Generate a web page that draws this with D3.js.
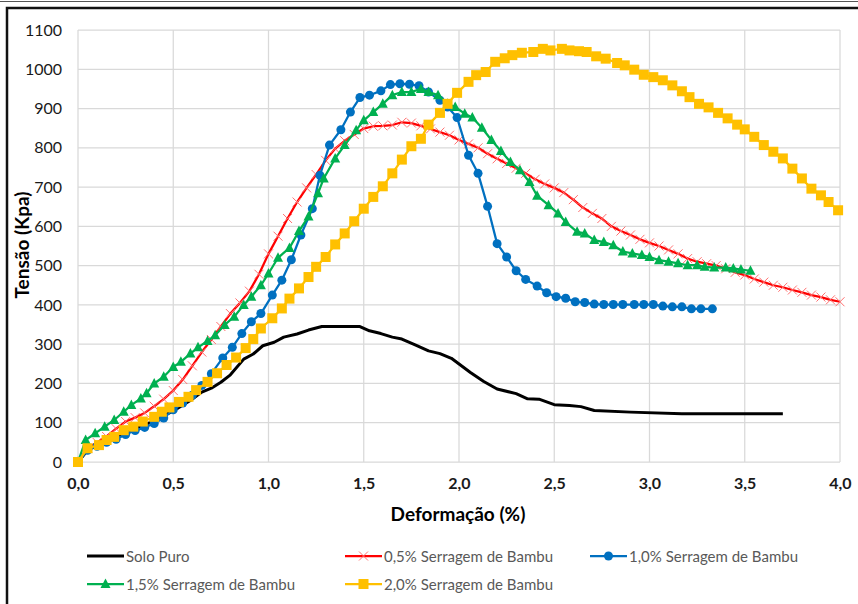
<!DOCTYPE html>
<html>
<head>
<meta charset="utf-8">
<script src="https://cdn.jsdelivr.net/npm/d3@7"></script>
<style>
  body { margin: 0; background: #fff; }
  svg { display: block; font-family: Lato, "Open Sans", sans-serif; }
</style>
</head>
<body>
<svg id="chart" width="858" height="604"></svg>
<script>
// x ticks / y ticks
var xTicks = [0, 0.5, 1, 1.5, 2, 2.5, 3, 3.5, 4];
var xTickLabels = ['0,0', '0,5', '1,0', '1,5', '2,0', '2,5', '3,0', '3,5', '4,0'];
var yTicks = [0, 100, 200, 300, 400, 500, 600, 700, 800, 900, 1000, 1100];

var seriesNames = ['Solo Puro', '0,5% Serragem de Bambu', '1,0% Serragem de Bambu',
                   '1,5% Serragem de Bambu', '2,0% Serragem de Bambu'];

// deformacao (%), tensao (kPa)
var soloPuro = [[0,0],[0.05,30],[0.1,42],[0.2,62],[0.3,85],[0.4,105],[0.5,130],[0.6,160],[0.65,178],
  [0.7,188],[0.75,203],[0.8,222],[0.87,262],[0.92,275],[0.97,296],[1.03,305],[1.08,318],[1.15,326],
  [1.21,336],[1.28,345],[1.48,345],[1.53,334],[1.59,327],[1.65,318],[1.7,313],[1.77,298],[1.84,283],
  [1.9,276],[1.96,264],[2.06,228],[2.13,205],[2.2,186],[2.3,174],[2.36,161],[2.42,160],[2.5,146],
  [2.58,144],[2.64,141],[2.71,131],[2.9,127],[3.17,123],[3.7,123]];

var serr05 = [[0,0],[0.05,35],[0.1,50],[0.15,65],[0.2,85],[0.25,103],[0.3,113],[0.35,125],[0.4,142],
  [0.45,160],[0.5,182],[0.55,210],[0.6,245],[0.65,280],[0.7,312],[0.75,345],[0.8,378],[0.85,405],
  [0.9,435],[0.95,478],[1.0,530],[1.05,575],[1.1,620],[1.15,662],[1.2,698],[1.25,732],[1.3,768],
  [1.35,798],[1.4,818],[1.45,834],[1.5,849],[1.55,855],[1.6,856],[1.65,858],[1.7,865],[1.75,863],
  [1.8,856],[1.85,848],[1.9,840],[1.95,832],[2.0,820],[2.05,810],[2.1,800],[2.15,785],[2.2,772],
  [2.25,760],[2.3,748],[2.35,735],[2.4,720],[2.45,708],[2.5,698],[2.55,686],[2.6,668],[2.65,648],
  [2.7,633],[2.75,620],[2.8,600],[2.85,588],[2.9,578],[2.95,567],[3.0,558],[3.05,550],[3.1,540],
  [3.15,530],[3.2,518],[3.25,510],[3.3,505],[3.35,500],[3.4,492],[3.45,483],[3.5,476],[3.55,466],
  [3.6,458],[3.65,450],[3.7,445],[3.75,438],[3.8,432],[3.85,425],[3.9,420],[3.95,413],[4.0,408]];

var serr10 = [[0,0],[0.05,30],[0.1,40],[0.15,50],[0.2,58],[0.25,70],[0.3,80],[0.35,88],[0.4,98],
  [0.45,112],[0.5,133],[0.55,150],[0.6,170],[0.65,195],[0.7,225],[0.76,265],[0.81,292],[0.86,327],
  [0.91,357],[0.96,378],[1.02,425],[1.07,463],[1.12,515],[1.17,578],[1.23,645],[1.27,730],[1.32,807],
  [1.38,846],[1.43,891],[1.48,928],[1.53,934],[1.59,945],[1.64,961],[1.69,963],[1.74,962],[1.79,958],
  [1.84,942],[1.9,921],[1.94,904],[1.99,877],[2.05,781],[2.1,735],[2.15,651],[2.2,556],[2.25,522],
  [2.3,487],[2.35,465],[2.41,448],[2.46,431],[2.51,421],[2.56,417],[2.61,408],[2.66,406],[2.71,402],
  [2.76,401],[2.81,401],[2.86,401],[2.92,401],[2.97,401],[3.02,401],[3.07,397],[3.12,395],[3.17,395],
  [3.22,390],[3.27,390],[3.33,390]];

var serr15 = [[0,0],[0.04,56],[0.09,73],[0.14,90],[0.19,107],[0.24,128],[0.28,145],[0.33,162],
  [0.36,175],[0.4,200],[0.45,217],[0.5,242],[0.54,255],[0.59,276],[0.63,292],[0.68,308],[0.72,323],
  [0.77,349],[0.82,370],[0.87,400],[0.91,421],[0.96,450],[1.0,480],[1.05,520],[1.11,545],[1.16,588],
  [1.21,625],[1.26,684],[1.29,722],[1.35,773],[1.4,807],[1.46,845],[1.5,870],[1.55,891],[1.6,912],
  [1.65,934],[1.7,942],[1.75,942],[1.8,950],[1.84,942],[1.89,934],[1.94,912],[1.98,904],[2.03,887],
  [2.07,877],[2.12,851],[2.17,820],[2.22,792],[2.27,764],[2.32,743],[2.37,713],[2.41,678],[2.47,654],
  [2.52,633],[2.56,611],[2.62,586],[2.66,582],[2.71,565],[2.76,560],[2.81,552],[2.86,536],[2.91,531],
  [2.96,527],[3.0,522],[3.05,514],[3.1,510],[3.15,506],[3.2,501],[3.25,501],[3.29,497],[3.34,495],
  [3.4,495],[3.44,493],[3.48,490],[3.53,487]];

var serr20 = [[0,0],[0.05,35],[0.11,43],[0.15,56],[0.19,64],[0.24,81],[0.29,90],[0.34,103],[0.4,115],
  [0.44,128],[0.48,139],[0.53,153],[0.58,166],[0.62,183],[0.68,204],[0.73,226],[0.78,247],[0.83,266],
  [0.88,290],[0.92,313],[0.96,340],[1.02,366],[1.07,391],[1.11,416],[1.16,442],[1.21,471],[1.25,497],
  [1.3,522],[1.35,554],[1.4,582],[1.45,613],[1.5,645],[1.55,675],[1.6,702],[1.65,735],[1.7,770],
  [1.75,804],[1.8,823],[1.84,859],[1.9,889],[1.94,912],[1.99,940],[2.05,968],[2.09,985],[2.14,993],
  [2.19,1019],[2.24,1028],[2.28,1036],[2.33,1042],[2.39,1044],[2.44,1052],[2.48,1048],[2.54,1052],
  [2.58,1048],[2.63,1046],[2.67,1044],[2.72,1033],[2.77,1027],[2.83,1016],[2.87,1010],[2.92,999],
  [2.97,986],[3.02,980],[3.07,972],[3.12,959],[3.17,944],[3.21,929],[3.26,912],[3.31,903],[3.36,889],
  [3.41,875],[3.46,859],[3.5,847],[3.55,828],[3.6,807],[3.65,790],[3.7,773],[3.75,747],[3.8,722],
  [3.85,696],[3.9,679],[3.94,662],[3.99,641]];

var colors = ['#000000', '#ff0000', '#0070c0', '#00b050', '#ffc000'];
var allSeries = [soloPuro, serr05, serr10, serr15, serr20];
var markers = [null, 'cross', 'circle', 'triangle', 'square'];

var svg = d3.select('#chart');

// frame
svg.append('line').attr('x1', 0).attr('x2', 858).attr('y1', 1.5).attr('y2', 1.5)
    .style('stroke', '#555').style('stroke-width', 1);
svg.append('rect').attr('x', 7).attr('y', 8).attr('width', 870).attr('height', 620)
    .style('fill', 'none').style('stroke', '#111').style('stroke-width', 2.5);

var x = d3.scaleLinear().domain([0, 4]).range([78, 840]);
var y = d3.scaleLinear().domain([0, 1100]).range([462, 30]);

// gridlines
var grid = svg.append('g');
grid.selectAll('.gy').data(yTicks).enter().append('line')
    .attr('x1', x(0)).attr('x2', x(4))
    .attr('y1', function(d) { return y(d); }).attr('y2', function(d) { return y(d); })
    .style('stroke', '#d9d9d9').style('stroke-width', 1.25);
grid.selectAll('.gx').data(xTicks).enter().append('line')
    .attr('y1', y(0)).attr('y2', y(1100))
    .attr('x1', function(d) { return x(d); }).attr('x2', function(d) { return x(d); })
    .style('stroke', '#d9d9d9').style('stroke-width', 1.25);

// axes
var yAxis = d3.axisLeft(y).tickValues(yTicks).tickSize(0).tickPadding(16).tickFormat(d3.format('d'));
var gy = svg.append('g').attr('transform', 'translate(' + x(0) + ',0)').call(yAxis);
gy.select('.domain').remove();
gy.selectAll('text').style('font-size', '16px').style('fill', '#1a1a1a')
    .style('font-family', 'Lato, sans-serif');

var xAxis = d3.axisBottom(x).tickValues(xTicks).tickSize(0).tickPadding(16)
    .tickFormat(function(d, i) { return xTickLabels[i]; });
var gx = svg.append('g').attr('transform', 'translate(0,' + y(0) + ')').call(xAxis);
gx.select('.domain').remove();
gx.selectAll('text').style('font-size', '16px').style('font-weight', 'bold').style('fill', '#1a1a1a')
    .style('font-family', 'Lato, sans-serif');

// axis titles
svg.append('text').attr('x', 458).attr('y', 521).attr('text-anchor', 'middle')
    .style('font-size', '19px').style('font-weight', 'bold').style('fill', '#000')
    .text('Deformação (%)');
svg.append('text').attr('transform', 'translate(29,245) rotate(-90)').attr('text-anchor', 'middle')
    .style('font-size', '19px').style('font-weight', 'bold').style('fill', '#000')
    .text('Tensão (Kpa)');

var line = d3.line().x(function(d) { return x(d[0]); }).y(function(d) { return y(d[1]); });

function drawMarker(g, type, color, cx, cy) {
    if (type == 'circle') {
        g.append('circle').attr('cx', cx).attr('cy', cy).attr('r', 4.5).style('fill', color);
    } else if (type == 'square') {
        g.append('rect').attr('x', cx - 5).attr('y', cy - 5).attr('width', 10).attr('height', 10)
            .style('fill', color);
    } else if (type == 'triangle') {
        g.append('path').attr('d', 'M' + cx + ',' + (cy - 5.5) + 'L' + (cx + 5) + ',' + (cy + 4) +
            'L' + (cx - 5) + ',' + (cy + 4) + 'Z').style('fill', color);
    } else if (type == 'cross') {
        g.append('path').attr('d', 'M' + (cx - 4.5) + ',' + (cy - 4.5) + 'L' + (cx + 4.5) + ',' + (cy + 4.5) +
            'M' + (cx - 4.5) + ',' + (cy + 4.5) + 'L' + (cx + 4.5) + ',' + (cy - 4.5))
            .style('stroke', '#ff7070').style('stroke-width', 1).style('fill', 'none');
    }
}

allSeries.forEach(function(data, i) {
    var g = svg.append('g');
    g.append('path').datum(data).attr('d', line)
        .style('fill', 'none').style('stroke', colors[i])
        .style('stroke-width', i == 0 ? 3 : 2.25).style('stroke-linejoin', 'round');
    if (markers[i]) {
        data.forEach(function(d) {
            drawMarker(g, markers[i], colors[i], x(d[0]), y(d[1]));
        });
    }
});

// legend
var legendPos = [[87, 556], [345, 556], [590, 556], [87, 584], [345, 584]];
seriesNames.forEach(function(name, i) {
    var p = legendPos[i];
    var g = svg.append('g');
    g.append('line').attr('x1', p[0]).attr('x2', p[0] + 37).attr('y1', p[1]).attr('y2', p[1])
        .style('stroke', colors[i]).style('stroke-width', i == 0 ? 3 : 2.25);
    if (markers[i]) drawMarker(g, markers[i], colors[i], p[0] + 18.5, p[1]);
    g.append('text').attr('x', p[0] + 39).attr('y', p[1] + 5.5)
        .style('font-size', '15px').style('fill', '#595959').text(name);
});
</script>
</body>
</html>
